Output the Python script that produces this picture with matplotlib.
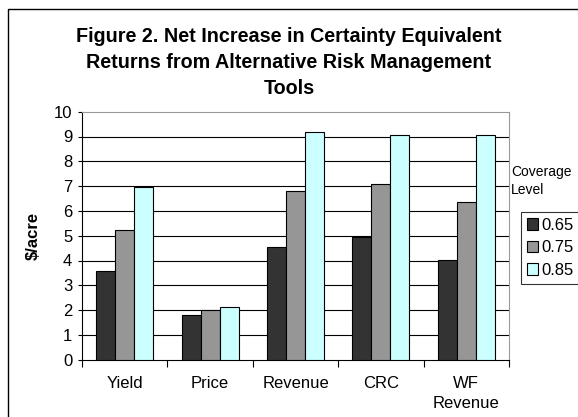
import numpy as np
import matplotlib
matplotlib.use("Agg")
import matplotlib.pyplot as plt
from matplotlib.patches import Rectangle

plt.rcParams['font.family'] = ['Liberation Sans', 'DejaVu Sans']

# --- Data ---
categories = ['Yield', 'Price', 'Revenue', 'CRC', 'WF\nRevenue']
coverage_levels = ['0.65', '0.75', '0.85']
vals_065 = [3.56, 1.80, 4.53, 4.96, 4.02]
vals_075 = [5.23, 1.99, 6.81, 7.07, 6.37]
vals_085 = [6.98, 2.11, 9.19, 9.06, 9.06]
colors = ['#333333', '#969696', '#CCFFFF']

fig = plt.figure(figsize=(5.78, 4.17), dpi=100)
ax = fig.add_axes([82 / 578, 1 - 359.7 / 417, (509 - 82) / 578, 248 / 417])

x = np.arange(len(categories))
width = 0.222
series = [vals_065, vals_075, vals_085]
bars = []
for i, (vals, c) in enumerate(zip(series, colors)):
    b = ax.bar(x + (i - 1) * width, vals, width, color=c, edgecolor='black',
               linewidth=0.8, zorder=3, label=coverage_levels[i])
    bars.append(b)

ax.set_xlim(-0.5, len(categories) - 0.5)
ax.set_ylim(0, 10)
ax.set_yticks(range(0, 11))
ax.tick_params(axis='y', labelsize=12, length=3, width=0.8, direction='out', pad=4)

# category boundaries get the tick marks, labels sit at the centres
ax.set_xticks(np.arange(-0.5, len(categories), 1.0))
ax.set_xticklabels([])
ax.tick_params(axis='x', which='major', length=5, width=0.8, direction='out')
ax.set_xticks(x, minor=True)
ax.set_xticklabels(categories, minor=True, fontsize=12, linespacing=1.35)
ax.tick_params(axis='x', which='minor', length=0, pad=12, labelsize=12)
for lab in ax.get_xticklabels(minor=True):
    lab.set_verticalalignment('top')

for yv in range(1, 10):
    ax.axhline(yv, color='black', linewidth=0.8, zorder=1)

ax.spines['top'].set_color('#999999')
ax.spines['right'].set_color('#999999')
ax.spines['left'].set_linewidth(0.8)
ax.spines['bottom'].set_linewidth(0.8)

ax.set_ylabel(r'\$/acre', fontsize=12, fontweight='bold')
ax.yaxis.set_label_coords(-0.096, 0.5)

fig.text(0.5, 1 - 62.5 / 417,
         'Figure 2. Net Increase in Certainty Equivalent\n'
         'Returns from Alternative Risk Management\nTools',
         ha='center', va='center', fontsize=14.2, fontweight='bold', linespacing=1.5)

fig.text(511 / 578, 1 - 181 / 417, 'Coverage\nLevel', ha='left', va='center',
         fontsize=10, linespacing=1.35)

leg = fig.legend(handles=bars, labels=coverage_levels, loc='upper left',
                 bbox_to_anchor=(521 / 578, 1 - 212 / 417), fontsize=12,
                 frameon=True, fancybox=False, edgecolor='black',
                 handlelength=0.65, handleheight=0.65, handletextpad=0.25,
                 labelspacing=0.45, borderpad=0.35, borderaxespad=0)
leg.get_frame().set_linewidth(0.8)

# outer chart border (cut off at right and bottom in the reference)
fig.patches.append(Rectangle((8 / 578, -0.2), 1.2, 1.2 - 8.5 / 417,
                             transform=fig.transFigure, fill=False,
                             edgecolor='black', linewidth=1.0))

fig.savefig('out.png', dpi=100)
